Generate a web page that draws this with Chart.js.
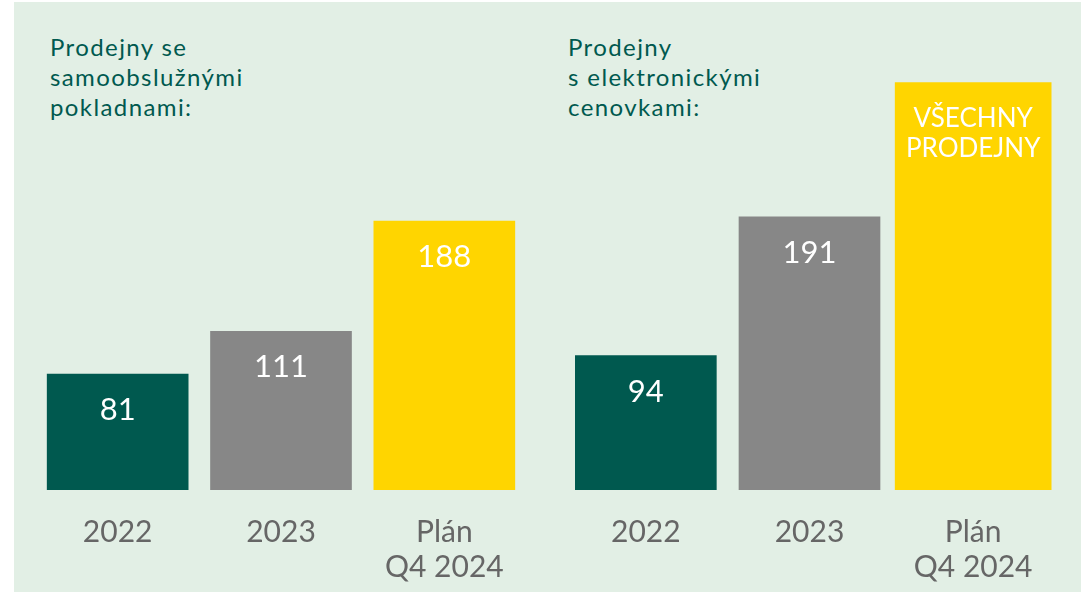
<!DOCTYPE html>
<html><head><meta charset="utf-8">
<script src="https://cdn.jsdelivr.net/npm/chart.js@4"></script>
<style>
html,body{margin:0;padding:0;background:#fff;width:1088px;height:593px;overflow:hidden;position:relative}
#bg{position:absolute;left:14px;top:2px;width:1067px;height:590px;background:#e2efe5}
.title{position:absolute;font-family:Lato,sans-serif;font-size:24px;line-height:30px;color:#00594f;white-space:nowrap;letter-spacing:1.4px}
.box{position:absolute;top:0;height:593px}
</style></head><body>
<div id="bg"></div>
<div class="title" style="left:50px;top:32px">Prodejny se<br>samoobslužnými<br>pokladnami:</div>
<div class="title" style="left:568px;top:32px">Prodejny<br>s elektronickými<br>cenovkami:</div>
<div class="box" style="left:36px;width:490px"><canvas id="c1"></canvas></div>
<div class="box" style="left:564px;width:491px"><canvas id="c2"></canvas></div>
<script>
const categories = ['2022', '2023', ['Plán', 'Q4 2024']];
const kioskStores = [81, 111, 188];
const eslStores = [94, 191, null];
const eslAllStores = [null, null, 285];
const eslLabels = ['94', '191', ['VŠECHNY', 'PRODEJNY']];
const kioskLabels = ['81', '111', '188'];
const barColors = ['#00594f', '#878787', '#ffd500'];

const valueLabels = {
  id: 'valueLabels',
  afterDatasetsDraw(chart, args, opts) {
    const ctx = chart.ctx;
    ctx.save();
    ctx.fillStyle = '#ffffff';
    ctx.textAlign = 'center';
    ctx.textBaseline = 'middle';
    chart.data.datasets.forEach((ds, di) => {
      const meta = chart.getDatasetMeta(di);
      meta.data.forEach((bar, i) => {
        if (ds.data[i] == null) return;
        const lab = opts.labels[i];
        const lines = Array.isArray(lab) ? lab : [lab];
        const size = Array.isArray(lab) ? 26 : 31;
        ctx.font = '400 ' + size + 'px Lato, sans-serif';
        lines.forEach((t, k) => ctx.fillText(t, bar.x, bar.y + 36 + k * 30));
      });
    });
    ctx.restore();
  }
};

function makeChart(id, datasets, labels) {
  return new Chart(document.getElementById(id), {
    type: 'bar',
    data: { labels: categories, datasets },
    options: {
      responsive: true, maintainAspectRatio: false, animation: false,
      layout: { padding: 0 },
      plugins: { legend: { display: false }, tooltip: { enabled: false }, valueLabels: { labels } },
      scales: {
        x: {
          grid: { display: false }, border: { display: false },
          ticks: { color: '#666666', font: { family: 'Lato, sans-serif', size: 30, lineHeight: 1.17 }, padding: 17, maxRotation: 0, autoSkip: false },
          afterFit(s) { s.height = 103; }
        },
        y: { display: false, min: 0, max: 342.7 }
      }
    },
    plugins: [valueLabels]
  });
}

makeChart('c1', [{ data: kioskStores, backgroundColor: barColors, barThickness: 141 }], kioskLabels);
makeChart('c2', [
  { data: eslStores, backgroundColor: barColors, barThickness: 141, grouped: false },
  { data: eslAllStores, backgroundColor: barColors, barThickness: 156, grouped: false }
], eslLabels);
</script>
</body></html>
